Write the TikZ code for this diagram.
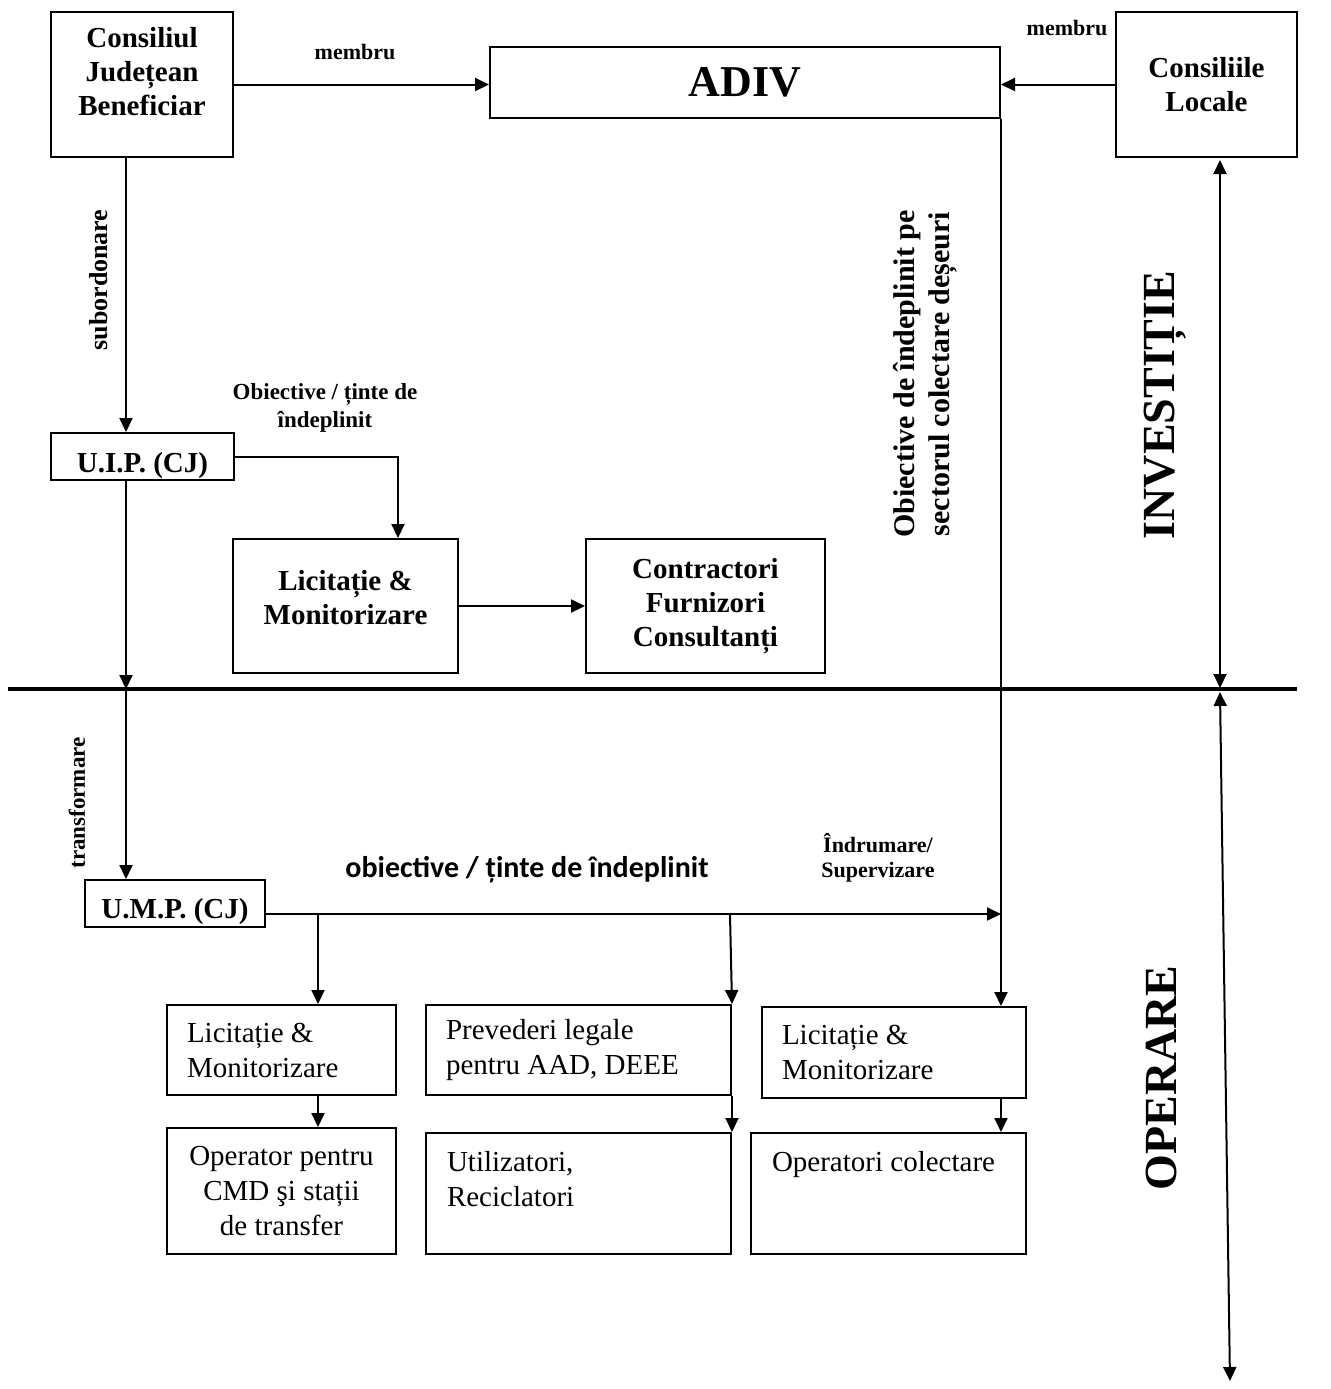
\documentclass[tikz,border=0pt]{standalone}
\usepackage{fontspec}
\setmainfont{Liberation Serif}
\newfontfamily\calibfont{Carlito}
\usetikzlibrary{arrows.meta,positioning,calc}

\begin{document}
\begin{tikzpicture}[x=0.5pt, y=-0.5pt, line width=1pt, >={Triangle[length=7pt,width=6.5pt]},
  box/.style={draw, rectangle, inner sep=0pt, align=center},
  leftbox/.style={draw, rectangle, inner ysep=0pt, inner xsep=10pt, align=flush left},
  boldtxt/.style={font=\fontsize{14.5}{17}\selectfont\bfseries},
  plaintxt/.style={font=\fontsize{14.5}{17.5}\selectfont},
  smalltxt/.style={font=\fontsize{11}{14}\selectfont\bfseries, align=center},
  sidetxt/.style={font=\fontsize{23}{26}\selectfont\bfseries, rotate=90}]
  \useasboundingbox (0,0) rectangle (1331,1389);
  % top row
  \node[box, minimum width=91pt, minimum height=72.5pt] (cjb) at (142,84.5) {};
  \node[boldtxt, align=center] (cjbtxt) at (142,72) {Consiliul\\Județean\\Beneficiar};
  \node[box, minimum width=255pt, minimum height=35.5pt, font=\fontsize{22}{26}\selectfont\bfseries] (adiv) at (745,82.5) {ADIV};
  \node[box, boldtxt, minimum width=90.5pt, minimum height=72.5pt] (cl) at (1206.5,84.5) {Consiliile\\Locale};
  % investment part
  \node[box, minimum width=91.5pt, minimum height=23.5pt] (uip) at (142.5,456.5) {};
  \node[boldtxt] (uiptxt) at (142.5,466) {U.I.P. (CJ)};
  \node[box, minimum width=112.5pt, minimum height=67pt] (lic1) at (345.5,606) {};
  \node[boldtxt, align=center] (lic1txt) at (345.5,598) {Licitație \&\\Monitorizare};
  \node[box, boldtxt, minimum width=119.5pt, minimum height=67pt] (cfc) at (705.5,606) {Contractori\\Furnizori\\Consultanți};
  % operation part
  \node[box, minimum width=90pt, minimum height=23.5pt] (ump) at (175,903.5) {};
  \node[boldtxt] (umptxt) at (175,912) {U.M.P. (CJ)};
  \node[leftbox, plaintxt, text width=94.5pt, minimum height=45pt] (lic2) at (281.5,1050) {Licitație \&\\Monitorizare};
  \node[leftbox, plaintxt, text width=132.5pt, minimum height=45pt] (prev) at (578.5,1050) {Prevederi legale\\pentru AAD, DEEE};
  \node[leftbox, plaintxt, text width=112pt, minimum height=45.5pt] (lic3) at (894,1052.5) {Licitație \&\\Monitorizare};
  \node[box, plaintxt, minimum width=114.5pt, minimum height=63pt] (opc) at (281.5,1191) {Operator pentru\\CMD şi stații\\de transfer};
  \node[box, minimum width=152.5pt, minimum height=60.5pt] (util) at (578.5,1193.5) {};
  \node[plaintxt, align=flush left, inner sep=0pt, anchor=north west] (utiltxt) at (446,1150) {Utilizatori,\\Reciclatori};
  \node[box, minimum width=137.5pt, minimum height=60.5pt] (opcol) at (888.5,1193.5) {};
  \node[plaintxt, inner sep=0pt, anchor=north west] (opcoltxt) at (771,1150) {Operatori colectare};
  % helper points
  \coordinate (sepL) at (8,689);
  \coordinate (sepR) at (1297,689);
  \coordinate (trunk) at (126,0);
  \coordinate (bus) at (0,914);
  \coordinate (b1) at (318,914);
  \coordinate (b2) at (730,914);
  \coordinate (knee) at (398,0);
  \coordinate (invtop) at (1220,160);
  \coordinate (invbot) at (1220,688);
  \coordinate (optop) at (1220,692);
  \coordinate (opbot) at (1230,1381);
  % connectors
  \draw[->] (cjb.east) -- (cjb.east -| adiv.west);
  \draw[->] (cl.west) -- (cl.west -| adiv.east);
  \draw[->] (adiv.south east) -- (adiv.south east |- lic3.north);
  \draw[->] (trunk |- cjb.south) -- (trunk |- uip.north);
  \draw[->] (trunk |- uip.south) -- (trunk |- sepL);
  \draw[->] (trunk |- sepL) -- (trunk |- ump.north);
  \draw[->] (uip.east) -| (knee |- lic1.north);
  \draw[->] (lic1.east) -- (lic1.east -| cfc.west);
  \draw[->] (ump.east |- bus) -- (adiv.east |- bus);
  \draw[->] (b1) -- (b1 |- lic2.north);
  \draw[->] (b2) -- (prev.north east);
  \draw[->] (b1 |- lic2.south) -- (b1 |- opc.north);
  \draw[->] (prev.south east) -- (util.north east);
  \draw[->] (adiv.east |- lic3.south) -- (adiv.east |- opcol.north);
  \draw[line width=1.6pt] (sepL) -- (sepR);
  \draw[<->] (invtop) -- (invbot);
  \draw[<->] (optop) -- (opbot);
  % labels
  \node[smalltxt] (mem1) at (355,52) {membru};
  \node[smalltxt] (mem2) at (1067,28) {membru};
  \node[font=\fontsize{13}{15}\selectfont\bfseries, rotate=90] (subo) at (99,280) {subordonare};
  \node[font=\fontsize{11.5}{13}\selectfont\bfseries, rotate=90] (transf) at (77,803) {transformare};
  \node[smalltxt, font=\fontsize{11.5}{14}\selectfont\bfseries] (obj1) at (325,408) {Obiective / ținte de\\îndeplinit};
  \node[align=center, rotate=90, font=\fontsize{15}{17.5}\selectfont\bfseries] (obj2) at (925,374) {Obiective de îndeplinit pe\\sectorul colectare deșeuri};
  \node[font=\fontsize{15}{18}\selectfont\bfseries\calibfont] (obj3) at (527,870) {obiective / ținte de îndeplinit};
  \node[smalltxt, font=\fontsize{11}{12.5}\selectfont\bfseries] (indr) at (878,858) {Îndrumare/\\Supervizare};
  \node[sidetxt] (inv) at (1165,405) {INVESTIȚIE};
  \node[sidetxt] (oper) at (1161,1078) {OPERARE};
\end{tikzpicture}
\end{document}
